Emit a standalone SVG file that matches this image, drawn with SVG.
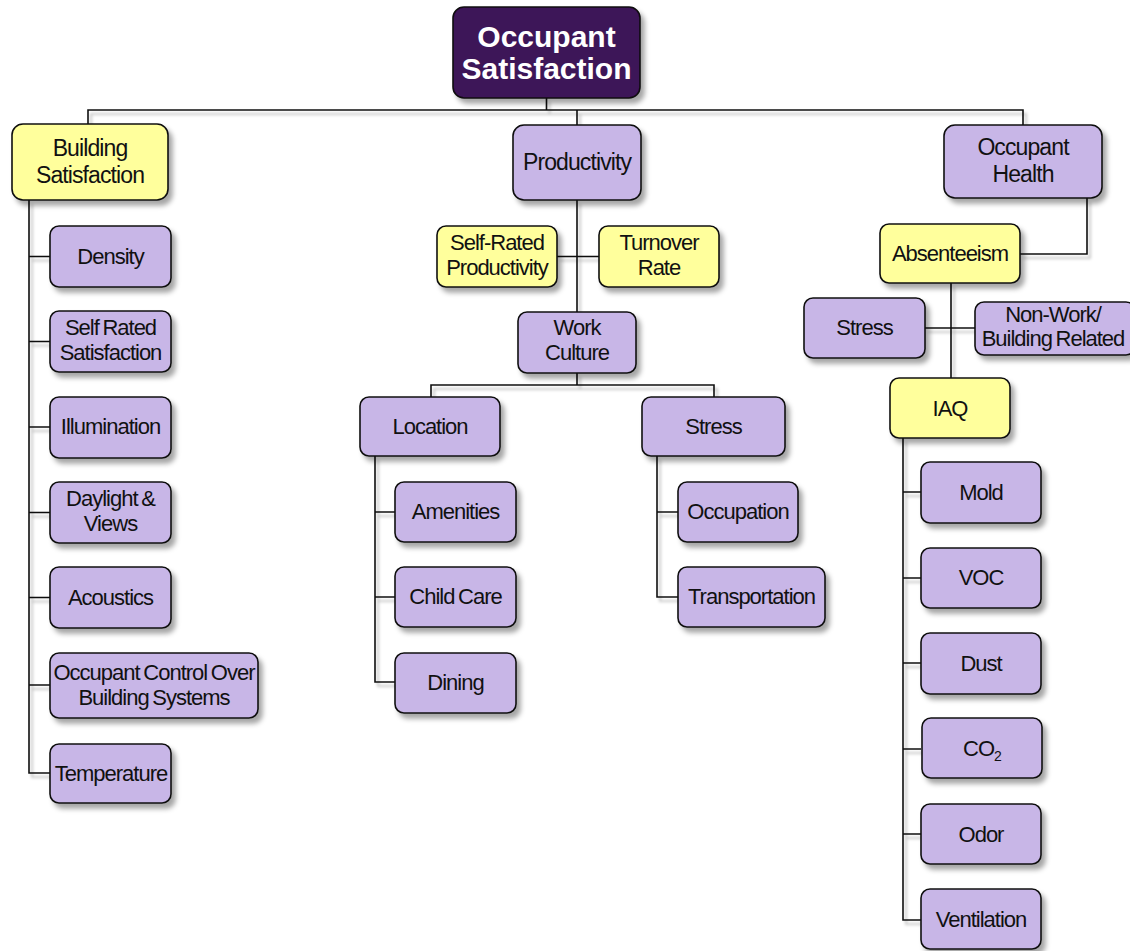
<svg xmlns="http://www.w3.org/2000/svg" width="1130" height="951" viewBox="0 0 1130 951">
  <defs>
    <filter id="shadow" x="-10%" y="-10%" width="130%" height="140%">
      <feDropShadow dx="4" dy="5" stdDeviation="2.5" flood-color="#000" flood-opacity="0.35"/>
    </filter>
    <filter id="lineShadow" x="-5%" y="-5%" width="110%" height="110%">
      <feDropShadow dx="3" dy="4" stdDeviation="1.5" flood-color="#000" flood-opacity="0.28"/>
    </filter>
  </defs>
  <style>
    .box { stroke: #111; stroke-width: 1.6; filter: url(#shadow); }
    .purple { fill: #c8b6e7; }
    .yellow { fill: #ffff9c; }
    .root { fill: #3e1259; }
    .lbl { font-family: "Liberation Sans", Arial, sans-serif; font-size: 22px; fill: #111; text-anchor: middle; letter-spacing: -1px; word-spacing: -1.5px; }
    .big { font-size: 23px; letter-spacing: -0.9px; }
    .title { font-family: "Liberation Sans", Arial, sans-serif; font-size: 30px; font-weight: bold; fill: #fff; text-anchor: middle; }
    .conn { stroke: #111; stroke-width: 1.6; fill: none; }
  </style>
  <rect width="1130" height="951" fill="#fff"/>

  <!-- connectors -->
  <g id="connectors" class="conn" filter="url(#lineShadow)">
    <path d="M546.5 98 V110 M88 124 V110 H1023 V125 M577 110 V125"/>
    <!-- building satisfaction spine -->
    <path d="M29 200 V773 H50 M29 256.5 H50 M29 341.5 H50 M29 427 H50 M29 512.5 H50 M29 597.5 H50 M29 685 H50"/>
    <!-- productivity branch -->
    <path d="M577 200 V312 M557 256.5 H599 M577 373 V385 M431 397 V385 H714 V397"/>
    <path d="M375 456 V682 H395 M375 512 H395 M375 597 H395"/>
    <path d="M657 456 V597 H678 M657 512 H678"/>
    <!-- occupant health branch -->
    <path d="M1087 198 V254 H1020 M951 283 V378 M925 328 H975"/>
    <path d="M903 438 V920 H921 M903 492 H921 M903 578 H921 M903 663 H921 M903 749 H921 M903 834 H921"/>
  </g>

  <!-- root -->
  <g id="occupant-satisfaction">
    <rect class="box root" x="453" y="7" width="187" height="91" rx="11"/>
    <text class="title" x="546.5" y="47">Occupant</text>
    <text class="title" x="546.5" y="79">Satisfaction</text>
  </g>

  <!-- building satisfaction -->
  <g id="building-satisfaction">
    <rect class="box yellow" x="12" y="124" width="156" height="76" rx="11"/>
    <text class="lbl big" x="90" y="156">Building</text>
    <text class="lbl big" x="90" y="183">Satisfaction</text>
  </g>
  <g id="density">
    <rect class="box purple" x="50" y="226" width="121" height="61" rx="9"/>
    <text class="lbl" x="110.5" y="264">Density</text>
  </g>
  <g id="self-rated-satisfaction">
    <rect class="box purple" x="50" y="311" width="121" height="61" rx="9"/>
    <text class="lbl" x="110.5" y="335">Self Rated</text>
    <text class="lbl" x="110.5" y="360">Satisfaction</text>
  </g>
  <g id="illumination">
    <rect class="box purple" x="50" y="397" width="121" height="61" rx="9"/>
    <text class="lbl" x="110.5" y="434">Illumination</text>
  </g>
  <g id="daylight-views">
    <rect class="box purple" x="50" y="482" width="121" height="61" rx="9"/>
    <text class="lbl" x="110.5" y="506">Daylight &amp;</text>
    <text class="lbl" x="110.5" y="531">Views</text>
  </g>
  <g id="acoustics">
    <rect class="box purple" x="50" y="567" width="121" height="61" rx="9"/>
    <text class="lbl" x="110.5" y="605">Acoustics</text>
  </g>
  <g id="occupant-control">
    <rect class="box purple" x="50" y="653" width="208" height="65" rx="9"/>
    <text class="lbl" x="154" y="680">Occupant Control Over</text>
    <text class="lbl" x="154" y="705">Building Systems</text>
  </g>
  <g id="temperature">
    <rect class="box purple" x="50" y="744" width="121" height="59" rx="9"/>
    <text class="lbl" x="111" y="781">Temperature</text>
  </g>

  <!-- productivity -->
  <g id="productivity">
    <rect class="box purple" x="513" y="125" width="128" height="75" rx="11"/>
    <text class="lbl big" x="577" y="170">Productivity</text>
  </g>
  <g id="self-rated-productivity">
    <rect class="box yellow" x="437" y="226" width="120" height="61" rx="9"/>
    <text class="lbl" x="497" y="250">Self-Rated</text>
    <text class="lbl" x="497" y="275">Productivity</text>
  </g>
  <g id="turnover-rate">
    <rect class="box yellow" x="599" y="226" width="120" height="61" rx="9"/>
    <text class="lbl" x="659" y="250">Turnover</text>
    <text class="lbl" x="659" y="275">Rate</text>
  </g>
  <g id="work-culture">
    <rect class="box purple" x="518" y="312" width="118" height="61" rx="9"/>
    <text class="lbl" x="577" y="335">Work</text>
    <text class="lbl" x="577" y="360">Culture</text>
  </g>
  <g id="location">
    <rect class="box purple" x="360" y="397" width="140" height="59" rx="9"/>
    <text class="lbl" x="430" y="434">Location</text>
  </g>
  <g id="work-stress">
    <rect class="box purple" x="642" y="397" width="143" height="59" rx="9"/>
    <text class="lbl" x="713.5" y="434">Stress</text>
  </g>
  <g id="amenities">
    <rect class="box purple" x="395" y="482" width="121" height="60" rx="9"/>
    <text class="lbl" x="455.5" y="519">Amenities</text>
  </g>
  <g id="child-care">
    <rect class="box purple" x="395" y="567" width="121" height="60" rx="9"/>
    <text class="lbl" x="455.5" y="604">Child Care</text>
  </g>
  <g id="dining">
    <rect class="box purple" x="395" y="653" width="121" height="60" rx="9"/>
    <text class="lbl" x="455.5" y="690">Dining</text>
  </g>
  <g id="occupation">
    <rect class="box purple" x="678" y="482" width="120" height="60" rx="9"/>
    <text class="lbl" x="738" y="519">Occupation</text>
  </g>
  <g id="transportation">
    <rect class="box purple" x="678" y="567" width="147" height="60" rx="9"/>
    <text class="lbl" x="751.5" y="604">Transportation</text>
  </g>

  <!-- occupant health -->
  <g id="occupant-health">
    <rect class="box purple" x="944" y="125" width="158" height="73" rx="11"/>
    <text class="lbl big" x="1023" y="155">Occupant</text>
    <text class="lbl big" x="1023" y="182">Health</text>
  </g>
  <g id="absenteeism">
    <rect class="box yellow" x="880" y="224" width="140" height="59" rx="9"/>
    <text class="lbl" x="950" y="261">Absenteeism</text>
  </g>
  <g id="health-stress">
    <rect class="box purple" x="804" y="298" width="121" height="60" rx="9"/>
    <text class="lbl" x="864.5" y="335">Stress</text>
  </g>
  <g id="non-work">
    <rect class="box purple" x="975" y="302" width="160" height="53" rx="9"/>
    <text class="lbl" x="1053" y="322">Non-Work/</text>
    <text class="lbl" x="1053" y="346">Building Related</text>
  </g>
  <g id="iaq">
    <rect class="box yellow" x="890" y="378" width="120" height="60" rx="9"/>
    <text class="lbl" x="950" y="416">IAQ</text>
  </g>
  <g id="mold">
    <rect class="box purple" x="921" y="462" width="120" height="61" rx="9"/>
    <text class="lbl" x="981" y="500">Mold</text>
  </g>
  <g id="voc">
    <rect class="box purple" x="921" y="548" width="120" height="60" rx="9"/>
    <text class="lbl" x="981" y="585">VOC</text>
  </g>
  <g id="dust">
    <rect class="box purple" x="921" y="633" width="120" height="61" rx="9"/>
    <text class="lbl" x="981" y="671">Dust</text>
  </g>
  <g id="co2">
    <rect class="box purple" x="922" y="718" width="120" height="60" rx="9"/>
    <text class="lbl" x="982" y="756">CO<tspan font-size="14" dy="5">2</tspan></text>
  </g>
  <g id="odor">
    <rect class="box purple" x="921" y="804" width="120" height="60" rx="9"/>
    <text class="lbl" x="981" y="842">Odor</text>
  </g>
  <g id="ventilation">
    <rect class="box purple" x="921" y="889" width="120" height="60" rx="9"/>
    <text class="lbl" x="981" y="927">Ventilation</text>
  </g>
</svg>
